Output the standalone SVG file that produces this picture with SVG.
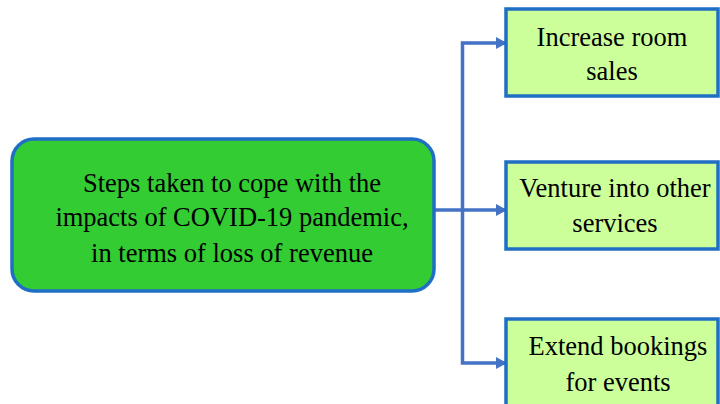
<svg xmlns="http://www.w3.org/2000/svg" width="720" height="404" viewBox="0 0 720 404">
<defs>
<style>
.t{font-family:'Liberation Serif',serif;font-size:26.5px;fill:#000;text-anchor:middle}
.main{fill:#33CC33;stroke:#1F6FC5;stroke-width:3.5}
.leaf{fill:#CCFF99;stroke:#1F6FC5;stroke-width:3.5}
.conn{fill:none;stroke:#4472C4;stroke-width:3.5}
</style>
<marker id="ah" markerWidth="11" markerHeight="12" refX="10" refY="6" orient="auto" markerUnits="userSpaceOnUse">
<path d="M0,0 L11,6 L0,12 Z" fill="#4472C4"/>
</marker>
</defs>
<rect width="720" height="404" fill="#fff"/>
<g id="connectors">
<path class="conn" d="M434,210 H506" marker-end="url(#ah)"/>
<path class="conn" d="M462.5,210 V43 H506" marker-end="url(#ah)"/>
<path class="conn" d="M462.5,210 V363 H506" marker-end="url(#ah)"/>
</g>
<g id="main">
<rect class="main" x="12" y="139" width="422" height="152" rx="22"/>
<text class="t" x="232" y="192" font-family="Liberation Serif, serif">Steps taken to cope with the</text>
<text class="t" x="232" y="226" font-family="Liberation Serif, serif">impacts of COVID-19 pandemic,</text>
<text class="t" x="232" y="262" font-family="Liberation Serif, serif">in terms of loss of revenue</text>
</g>
<g id="n1">
<rect class="leaf" x="506" y="9" width="212" height="87"/>
<text class="t" x="612" y="46">Increase room</text>
<text class="t" x="612" y="80">sales</text>
</g>
<g id="n2">
<rect class="leaf" x="506" y="162" width="212" height="87"/>
<text class="t" x="615" y="197">Venture into other</text>
<text class="t" x="615" y="232">services</text>
</g>
<g id="n3">
<rect class="leaf" x="506" y="319" width="212" height="100"/>
<text class="t" x="618" y="355">Extend bookings</text>
<text class="t" x="618" y="391">for events</text>
</g>
</svg>
